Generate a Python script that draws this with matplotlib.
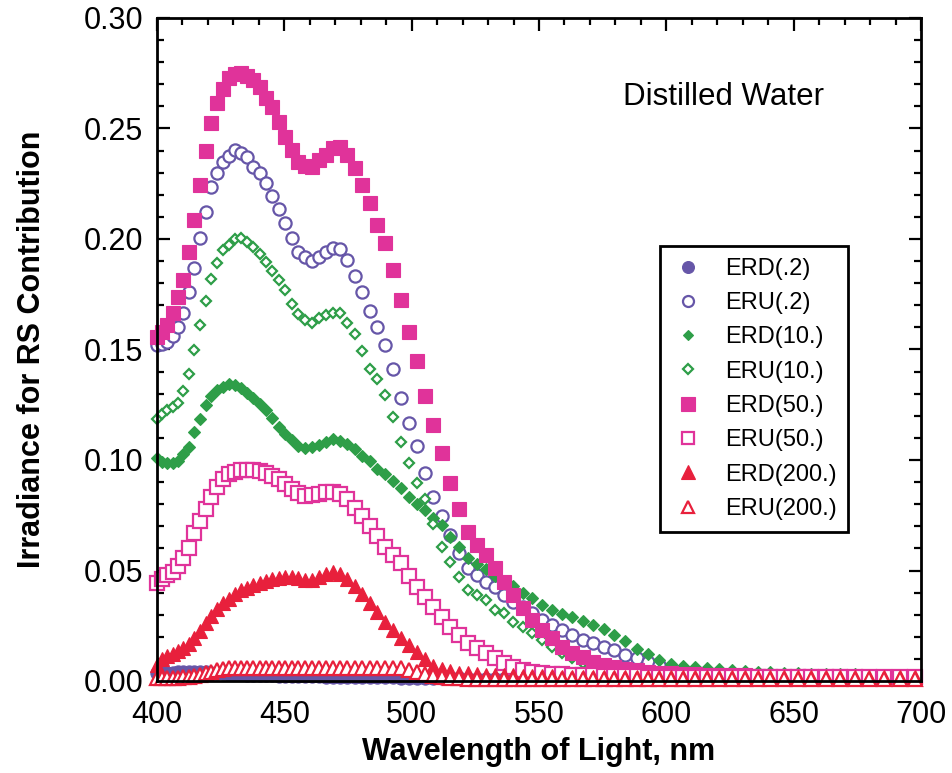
import matplotlib
matplotlib.use("Agg")
import matplotlib.pyplot as plt
from matplotlib.ticker import MultipleLocator, FormatStrFormatter

plt.rcParams['font.family'] = ['Liberation Sans', 'DejaVu Sans']

# wavelength of each sample (nm); samples sit roughly evenly in wavenumber
wavelength = [
    400.0, 402.0, 404.1, 406.2, 408.3, 410.4, 412.6, 414.7, 416.9, 419.2,
    421.4, 423.7, 426.0, 428.3, 430.6, 433.0, 435.4, 437.8, 440.3, 442.7,
    445.2, 447.8, 450.3, 452.9, 455.5, 458.2, 460.9, 463.6, 466.3, 469.1,
    471.9, 474.8, 477.6, 480.6, 483.5, 486.5, 489.5, 492.6, 495.7, 498.8,
    502.0, 505.2, 508.5, 511.8, 515.2, 518.5, 522.0, 525.5, 529.0, 532.6,
    536.2, 539.9, 543.6, 547.4, 551.2, 555.1, 559.0, 563.0, 567.1, 571.2,
    575.4, 579.6, 583.9, 588.3, 592.7, 597.2, 601.8, 606.4, 611.1, 615.9,
    620.7, 625.7, 630.7, 635.8, 640.9, 646.2, 651.6, 657.0, 662.5, 668.1,
    673.9, 679.7, 685.6, 691.6, 697.7,
]

erd_02 = [
    .0035, .0036, .0037, .0038, .0039, .0040, .0040, .0040, .0040, .0039,
    .0038, .0037, .0035, .0033, .0031, .0030, .0029, .0028, .0027, .0026,
    .0025, .0024, .0023, .0023, .0022, .0022, .0021, .0021, .0020, .0020,
    .0019, .0019, .0018, .0018, .0017, .0017, .0016, .0016, .0015, .0015,
    .0014, .0014, .0013, .0013, .0012, .0012, .0011, .0011, .0010, .0010,
    .0010, .0010, .0009, .0009, .0009, .0009, .0008, .0008, .0008, .0008,
    .0008, .0008, .0008, .0008, .0008, .0008, .0008, .0008, .0008, .0008,
    .0008, .0008, .0008, .0008, .0008, .0008, .0008, .0008, .0008, .0008,
    .0008, .0008, .0008, .0008, .0008,
]

eru_02 = [
    .152, .1527, .1534, .156, .160, .1665, .176, .187, .2005, .212,
    .2235, .230, .2348, .2376, .2403, .239, .2371, .2326, .230, .2253,
    .2195, .2136, .2072, .2005, .194, .1918, .190, .1918, .194, .196,
    .1955, .1905, .1833, .176, .1674, .160, .152, .141, .128, .1167,
    .1063, .094, .0833, .0747, .066, .058, .0511, .048, .0448, .0425,
    .0389, .0357, .0335, .0308, .0276, .0253, .023, .0208, .0186, .0172,
    .0154, .014, .0118, .0104, .0086, .0072, .0059, .005, .0042, .0036,
    .0032, .003, .0028, .0026, .0024, .0023, .0022, .0021, .002, .002,
    .0019, .0018, .0018, .0017, .0017,
]

erd_10 = [
    .1009, .099, .0986, .0986, .0995, .1025, .106, .1125, .1185, .125,
    .129, .1315, .1332, .1345, .134, .1325, .1303, .128, .1255, .1225,
    .119, .115, .1118, .109, .1065, .1054, .1058, .107, .1082, .1095,
    .1086, .1072, .1052, .102, .0995, .096, .0935, .0905, .0873, .0833,
    .080, .0774, .0738, .0706, .0652, .0606, .0555, .053, .0505, .0475,
    .0452, .043, .040, .0375, .0345, .032, .0305, .029, .0272, .0255,
    .0235, .021, .018, .0145, .012, .0095, .0078, .0066, .0063, .0059,
    .0053, .005, .0046, .0042, .004, .0037, .0035, .0033, .0032, .003,
    .003, .0029, .0028, .0027, .0026,
]

eru_10 = [
    .1186, .121, .1225, .1238, .126, .131, .139, .150, .161, .172,
    .182, .189, .195, .1975, .200, .2005, .1988, .1962, .193, .1896,
    .1855, .1814, .1769, .1705, .166, .1633, .162, .1643, .1656, .1665,
    .1665, .162, .157, .1493, .141, .1367, .1294, .1195, .108, .0986,
    .0896, .0824, .071, .0606, .0538, .047, .0412, .039, .0367, .0321,
    .0308, .0267, .0244, .0217, .0186, .0154, .0127, .0104, .0081, .0063,
    .005, .0045, .004, .0036, .0032, .003, .0028, .0026, .0024, .0022,
    .0021, .002, .0019, .0018, .0018, .0017, .0017, .0016, .0016, .0016,
    .0016, .0016, .0016, .0016, .0016,
]

erd_50 = [
    .1557, .158, .161, .1665, .1738, .1814, .194, .2086, .2244, .240,
    .2525, .2615, .2679, .2729, .2747, .275, .2738, .272, .2686, .264,
    .2597, .2529, .2462, .2403, .2348, .233, .2326, .2357, .238, .2412,
    .2416, .238, .2321, .2244, .2163, .2063, .1982, .186, .1724, .158,
    .145, .129, .116, .103, .0896, .078, .0674, .0615, .057, .051,
    .0448, .039, .033, .0276, .023, .0195, .0154, .0127, .011, .0086,
    .0072, .0062, .0055, .0048, .0042, .0038, .0035, .0032, .003, .0028,
    .0027, .0026, .0025, .0024, .0023, .0023, .0022, .0022, .0021, .0021,
    .002, .002, .002, .002, .002,
]

eru_50 = [
    .0443, .0462, .048, .0493, .052, .0555, .0602, .067, .0725, .078,
    .0833, .0878, .0914, .0935, .0946, .0953, .0955, .0955, .095, .0943,
    .0928, .0912, .089, .087, .085, .0838, .0842, .0848, .0853, .0855,
    .0848, .0825, .0785, .0745, .070, .0655, .0608, .057, .0534, .0475,
    .0425, .038, .0335, .029, .0244, .0208, .0172, .0149, .0127, .0104,
    .0081, .0063, .005, .004, .0036, .0033, .003, .0028, .0026, .0025,
    .0024, .0023, .0022, .0021, .002, .002, .002, .002, .002, .002,
    .002, .002, .002, .002, .002, .002, .002, .002, .002, .002,
    .002, .002, .002, .002, .002,
]

erd_200 = [
    .0072, .010, .0112, .0122, .0135, .0148, .0168, .0195, .0228, .0262,
    .0295, .0325, .0353, .0372, .0392, .041, .0422, .0433, .0443, .0452,
    .046, .0466, .047, .047, .0465, .0457, .0457, .047, .0482, .0492,
    .0482, .0462, .043, .0395, .0352, .031, .0268, .0232, .0195, .0165,
    .0132, .0098, .007, .0055, .0045, .0038, .0034, .0031, .0029, .0027,
    .0026, .0025, .0024, .0023, .0022, .0021, .002, .002, .0019, .0019,
    .0018, .0017, .0017, .0017, .0017, .0017, .0017, .0017, .0017, .0017,
    .0017, .0016, .0016, .0016, .0016, .0016, .0016, .0016, .0016, .0016,
    .0016, .0016, .0016, .0016, .0016,
]

eru_200 = [
    .0012, .0012, .0013, .0014, .0015, .0017, .002, .0024, .0029, .0035,
    .0042, .0048, .0053, .0057, .006, .006, .006, .006, .006, .006,
    .006, .006, .006, .006, .006, .006, .006, .006, .006, .006,
    .006, .006, .006, .006, .006, .006, .006, .006, .0058, .005,
    .004, .003, .0022, .0016, .0013, .0012, .0011, .001, .001, .001,
    .001, .001, .001, .001, .001, .001, .001, .001, .001, .001,
    .001, .001, .001, .001, .001, .001, .001, .001, .001, .001,
    .001, .001, .001, .001, .001, .001, .001, .001, .001, .001,
    .001, .001, .001, .001, .001,
]

PURPLE = '#6656a8'
GREEN = '#2e9e48'
MAGENTA = '#e0339a'
RED = '#e8203c'

# label, values, marker, colour, filled, size
series = [
    ('ERD(.2)', erd_02, 'o', PURPLE, True, 9.5),
    ('ERU(.2)', eru_02, 'o', PURPLE, False, 8.8),
    ('ERD(10.)', erd_10, 'D', GREEN, True, 6.2),
    ('ERU(10.)', eru_10, 'D', GREEN, False, 5.6),
    ('ERD(50.)', erd_50, 's', MAGENTA, True, 10.5),
    ('ERU(50.)', eru_50, 's', MAGENTA, False, 9.5),
    ('ERD(200.)', erd_200, '^', RED, True, 10.5),
    ('ERU(200.)', eru_200, '^', RED, False, 10),
]

fig = plt.figure(figsize=(9.52, 7.73), dpi=100)
ax = fig.add_axes([157 / 952, 1 - 681 / 773, 764 / 952, 663 / 773])

for label, vals, mk, col, filled, ms in series:
    ax.plot(wavelength, vals, linestyle='none', marker=mk, markersize=ms,
            markerfacecolor=col if filled else 'white', markeredgecolor=col,
            markeredgewidth=0.8 if filled else 1.6, label=label, clip_on=False)

ax.set_xlim(400, 700)
ax.set_ylim(0, 0.30)
ax.xaxis.set_major_locator(MultipleLocator(50))
ax.xaxis.set_minor_locator(MultipleLocator(10))
ax.yaxis.set_major_locator(MultipleLocator(0.05))
ax.yaxis.set_minor_locator(MultipleLocator(0.01))
ax.yaxis.set_major_formatter(FormatStrFormatter('%.2f'))

ax.tick_params(which='both', direction='in', top=True, right=True, width=1.6,
               labelsize=22)
ax.tick_params(which='major', length=9)
ax.tick_params(which='minor', length=5)
ax.tick_params(axis='x', pad=14)
ax.tick_params(axis='y', pad=10)
for sp in ax.spines.values():
    sp.set_linewidth(2)

ax.set_xlabel('Wavelength of Light, nm', fontsize=22, fontweight='bold', labelpad=5)
ax.set_ylabel('Irradiance for RS Contribution', fontsize=22, fontweight='bold', labelpad=26)

ax.text(0.742, 0.881, 'Distilled Water', transform=ax.transAxes,
        ha='center', va='center', fontsize=22.5)

leg = ax.legend(loc='upper left', bbox_to_anchor=(0.658, 0.656), fontsize=17,
                frameon=True, fancybox=False, edgecolor='black', framealpha=1,
                handlelength=1.4, handletextpad=0.85, labelspacing=0.52,
                borderpad=0.5, borderaxespad=0, markerscale=0.9)
leg.get_frame().set_linewidth(2)

fig.savefig('out.png', dpi=100)
